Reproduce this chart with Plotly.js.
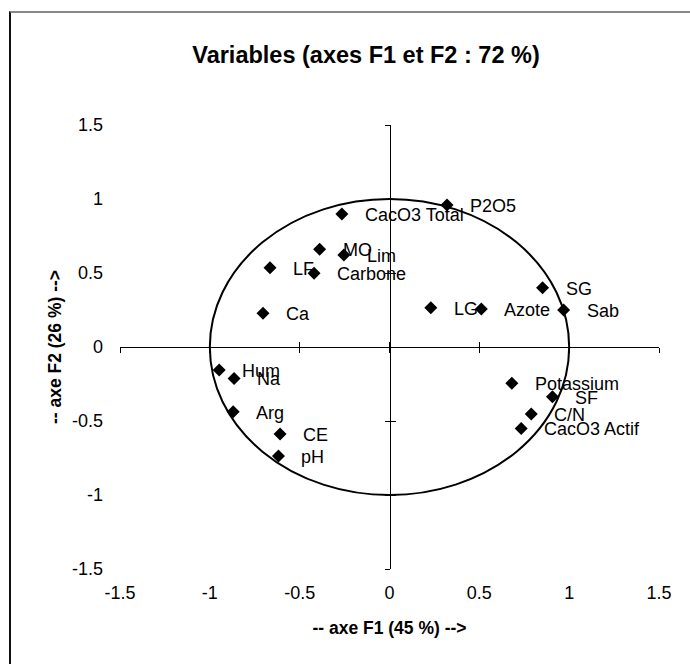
<!DOCTYPE html>
<html>
<head>
<meta charset="utf-8">
<script src="https://cdn.plot.ly/plotly-3.0.1.min.js"></script>
<style>
  html, body { margin: 0; padding: 0; background: #fff; }
  #wrap { position: relative; width: 690px; height: 664px; overflow: hidden; }
  #chart { position: absolute; left: 0; top: 0; width: 690px; height: 664px; }
  #frame { position: absolute; left: 9px; top: 11px; width: 900px; height: 900px;
           border-left: 2px solid #111; border-top: 2px solid #888; pointer-events: none; }
</style>
</head>
<body>
<div id="wrap">
  <div id="chart"></div>
  <div id="frame"></div>
</div>
<script>
// Variable names
const variables = ["P2O5", "CacO3 Total", "MO", "Lim", "LF", "Carbone", "Ca",
                   "LG", "Azote", "SG", "Sab",
                   "Hum", "Na", "Arg", "CE", "pH",
                   "Potassium", "SF", "C/N", "CacO3 Actif"];
// Coordinates on F1 (x) and F2 (y)
const f1 = [0.32, -0.265, -0.389, -0.254, -0.665, -0.42, -0.704,
            0.23, 0.511, 0.852, 0.969,
            -0.948, -0.865, -0.87, -0.609, -0.618,
            0.681, 0.907, 0.789, 0.733];
const f2 = [0.959, 0.899, 0.660, 0.622, 0.536, 0.498, 0.228,
            0.266, 0.257, 0.401, 0.25,
            -0.155, -0.212, -0.437, -0.588, -0.736,
            -0.245, -0.336, -0.453, -0.55];
// Axis ticks
const tickVals = [-1.5, -1, -0.5, 0, 0.5, 1, 1.5];
const tickText = ["-1.5", "-1", "-0.5", "0", "0.5", "1", "1.5"];
const circleRadius = 1;

const FONT = "Liberation Sans, Arial, sans-serif";

const traces = [
  {
    type: "scatter", mode: "markers",
    x: f1, y: f2, text: variables,
    marker: { symbol: "diamond", size: 10, color: "#000" },
    hoverinfo: "text", showlegend: false
  },
  // empty helper traces so the crossing axes get drawn
  { type: "scatter", x: [], y: [], xaxis: "x2", yaxis: "y", showlegend: false, hoverinfo: "skip" },
  { type: "scatter", x: [], y: [], xaxis: "x3", yaxis: "y", showlegend: false, hoverinfo: "skip" },
  { type: "scatter", x: [], y: [], xaxis: "x", yaxis: "y2", showlegend: false, hoverinfo: "skip" },
  { type: "scatter", x: [], y: [], xaxis: "x", yaxis: "y3", showlegend: false, hoverinfo: "skip" }
];

const rng = [tickVals[0], tickVals[tickVals.length - 1]];

const crossAxis = (side, pos) => ({
  range: rng, tickvals: tickVals, showticklabels: false,
  showgrid: false, zeroline: false,
  showline: true, linecolor: "#000", linewidth: 1,
  ticks: side, ticklen: 5, tickwidth: 1, tickcolor: "#000",
  anchor: "free", position: pos, fixedrange: true
});

const annotations = variables.map((name, i) => ({
  x: f1[i], y: f2[i], xref: "x", yref: "y",
  text: name, showarrow: false,
  xanchor: "left", yanchor: "middle",
  xshift: 21, yshift: -1,
  font: { family: FONT, size: 18, color: "#000" }
}));

const layout = {
  width: 690, height: 664,
  margin: { l: 120, r: 31, t: 125, b: 95 },
  paper_bgcolor: "#fff", plot_bgcolor: "rgba(0,0,0,0)",
  showlegend: false,
  title: {
    text: "<b>Variables (axes F1 et F2 : 72 %)</b>",
    font: { family: FONT, size: 23.5, color: "#000" },
    xref: "container", yref: "container",
    x: 366 / 690, xanchor: "center",
    y: 1 - 55 / 664, yanchor: "middle"
  },
  xaxis: {
    range: rng, tickvals: tickVals, ticktext: tickText,
    showgrid: false, zeroline: false, showline: false, ticks: "",
    tickfont: { family: FONT, size: 18, color: "#000" },
    ticklabelstandoff: 11,
    title: { text: "<b>-- axe F1 (45 %) --></b>", standoff: 19,
             font: { family: FONT, size: 17.5, color: "#000" } },
    fixedrange: true
  },
  yaxis: {
    range: rng, tickvals: tickVals, ticktext: tickText,
    showgrid: false, zeroline: false, showline: false, ticks: "",
    tickfont: { family: FONT, size: 18, color: "#000" },
    ticklabelstandoff: 16,
    title: { text: "<b>-- axe F2 (26 %) --></b>", standoff: 5,
             font: { family: FONT, size: 17.5, color: "#000" } },
    fixedrange: true
  },
  xaxis2: Object.assign(crossAxis("outside", 0.5), { overlaying: "x" }),
  xaxis3: Object.assign(crossAxis("inside", 0.5), { overlaying: "x" }),
  yaxis2: Object.assign(crossAxis("outside", 0.5), { overlaying: "y" }),
  yaxis3: Object.assign(crossAxis("inside", 0.5), { overlaying: "y" }),
  shapes: [{
    type: "circle", xref: "x", yref: "y",
    x0: -circleRadius, x1: circleRadius, y0: -circleRadius, y1: circleRadius,
    line: { color: "#000", width: 2 }, layer: "below"
  }],
  annotations: annotations
};

Plotly.newPlot("chart", traces, layout, { displayModeBar: false, staticPlot: true });
</script>
</body>
</html>
